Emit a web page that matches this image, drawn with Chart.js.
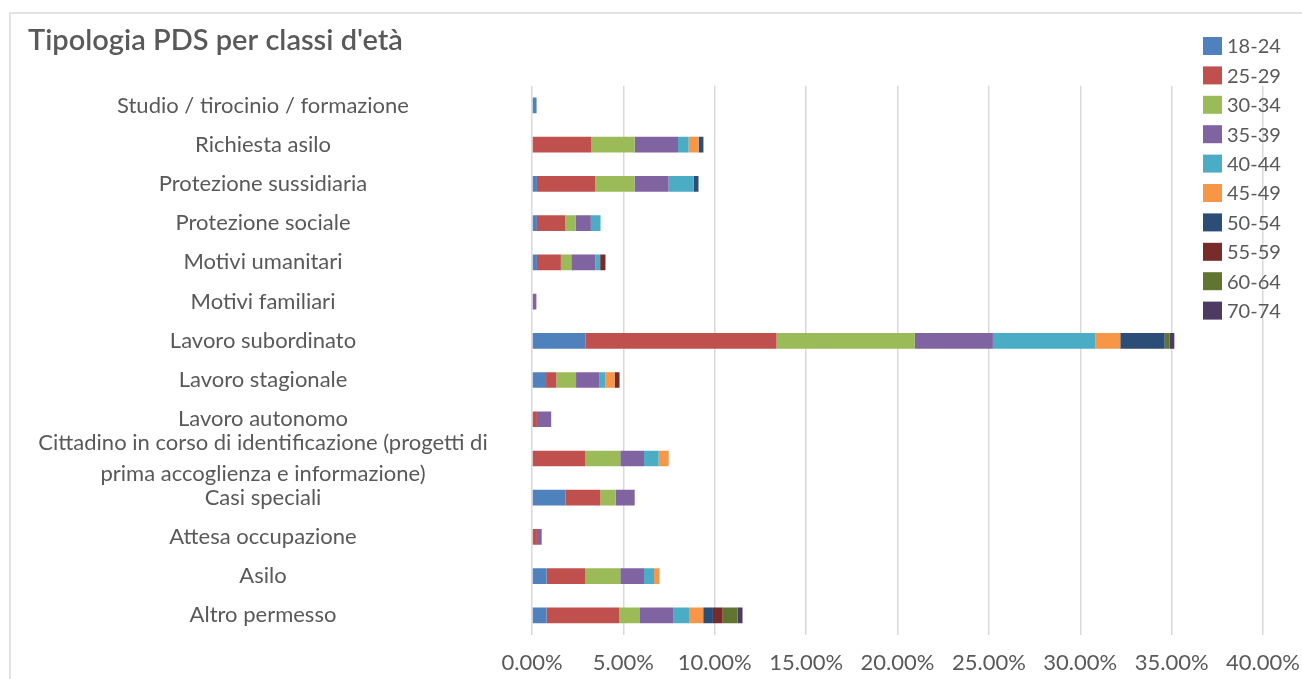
<!DOCTYPE html>
<html>
<head>
<meta charset="utf-8">
<script src="https://cdn.jsdelivr.net/npm/chart.js@4/dist/chart.umd.min.js"></script>
<style>
  html, body { margin: 0; padding: 0; background: #fff; }
  body { width: 1302px; height: 679px; position: relative; overflow: hidden; }
  #frame { position: absolute; left: 9px; top: 12px; width: 1400px; height: 800px;
           border-left: 2px solid #e3e3e3; border-top: 2px solid #e3e3e3; }
  #wrap { position: absolute; left: 0; top: 0; width: 1302px; height: 679px; }
</style>
</head>
<body>
<div id="frame"></div>
<div id="wrap"><canvas id="chart" width="1302" height="679"></canvas></div>
<script>
// Permit types (top to bottom)
const categories = [
  'Studio / tirocinio / formazione',
  'Richiesta asilo',
  'Protezione sussidiaria',
  'Protezione sociale',
  'Motivi umanitari',
  'Motivi familiari',
  'Lavoro subordinato',
  'Lavoro stagionale',
  'Lavoro autonomo',
  ['Cittadino in corso di identificazione (progetti di', 'prima accoglienza e informazione)'],
  'Casi speciali',
  'Attesa occupazione',
  'Asilo',
  'Altro permesso'
];

// Age groups
const ageGroups = ['18-24', '25-29', '30-34', '35-39', '40-44', '45-49', '50-54', '55-59', '60-64', '70-74'];

// Share of permits (%) per age group, one value per permit type
const age18_24 = [0.25, 0, 0.27, 0.27, 0.27, 0, 2.94, 0.77, 0, 0, 1.84, 0, 0.80, 0.80];
const age25_29 = [0, 3.23, 3.19, 1.55, 1.31, 0, 10.44, 0.56, 0.27, 2.90, 1.90, 0.27, 2.10, 3.98];
const age30_34 = [0, 2.39, 2.15, 0.58, 0.57, 0, 7.57, 1.08, 0, 1.93, 0.84, 0, 1.93, 1.13];
const age35_39 = [0, 2.37, 1.86, 0.82, 1.31, 0.24, 4.27, 1.29, 0.78, 1.30, 1.04, 0.26, 1.30, 1.84];
const age40_44 = [0, 0.58, 1.37, 0.53, 0.27, 0, 5.60, 0.31, 0, 0.80, 0, 0, 0.55, 0.84];
const age45_49 = [0, 0.55, 0, 0, 0, 0, 1.37, 0.51, 0, 0.55, 0, 0, 0.29, 0.78];
const age50_54 = [0, 0.26, 0.27, 0, 0, 0, 2.43, 0, 0, 0, 0, 0, 0, 0.53];
const age55_59 = [0, 0, 0, 0, 0.29, 0, 0, 0.27, 0, 0, 0, 0, 0, 0.53];
const age60_64 = [0, 0, 0, 0, 0, 0, 0.26, 0, 0, 0, 0, 0, 0, 0.82];
const age70_74 = [0, 0, 0, 0, 0, 0, 0.27, 0, 0, 0, 0, 0, 0, 0.27];

// Axis ticks
const xTicks = [0, 5, 10, 15, 20, 25, 30, 35, 40];

const seriesValues = [age18_24, age25_29, age30_34, age35_39, age40_44, age45_49, age50_54, age55_59, age60_64, age70_74];
const seriesColors = ['#4F81BD', '#C0504D', '#9BBB59', '#8064A2', '#4BACC6', '#F79646', '#2C4D75', '#772C2A', '#5F7530', '#4D3B62'];

const TEXT = '#595959';
const FONT = 'Lato, "Open Sans", sans-serif';
const LABEL_SIZE = 22;
const LEGEND_SIZE = 20;
const LEFT_PAD = 28;
const PLOT_LEFT = 532;
const LABEL_CENTER = 263;
const X_AXIS_HEIGHT = 44;

// widest category line, used to centre the labels in their column
const mctx = document.createElement('canvas').getContext('2d');
mctx.font = LABEL_SIZE + 'px ' + FONT;
let widest = 0;
categories.forEach(c => [].concat(c).forEach(l => { widest = Math.max(widest, mctx.measureText(l).width); }));
const labelPadding = PLOT_LEFT - LABEL_CENTER - widest / 2;

// Legend drawn over the plot on the right
const overlayLegend = {
  id: 'overlayLegend',
  afterDraw(chart) {
    const ctx = chart.ctx;
    ctx.save();
    ctx.font = LEGEND_SIZE + 'px ' + FONT;
    ctx.textBaseline = 'middle';
    ctx.textAlign = 'left';
    chart.data.datasets.forEach((ds, i) => {
      const cy = 46 + i * 29.4;
      ctx.fillStyle = ds.backgroundColor;
      ctx.fillRect(1203, cy - 9, 19, 18);
      ctx.fillStyle = TEXT;
      ctx.fillText(ds.label, 1227, cy + 1);
    });
    ctx.restore();
  }
};

new Chart(document.getElementById('chart'), {
  type: 'bar',
  data: {
    labels: categories,
    datasets: ageGroups.map((g, i) => ({
      label: g,
      data: seriesValues[i],
      backgroundColor: seriesColors[i],
      borderWidth: 0,
      barPercentage: 0.4,
      categoryPercentage: 1
    }))
  },
  options: {
    indexAxis: 'y',
    responsive: false,
    animation: false,
    layout: { padding: { left: LEFT_PAD, right: 39, top: 0, bottom: 0 } },
    plugins: {
      legend: { display: false },
      tooltip: { enabled: false },
      title: {
        display: true,
        text: "Tipologia PDS per classi d'età",
        align: 'start',
        color: TEXT,
        font: { family: FONT, size: 29, weight: '600' },
        padding: { top: 23, bottom: 28 }
      }
    },
    scales: {
      x: {
        stacked: true,
        min: 0,
        max: 40,
        afterBuildTicks: s => { s.ticks = xTicks.map(v => ({ value: v })); },
        afterFit: s => { s.paddingLeft = 0; s.paddingRight = 0; s.height = X_AXIS_HEIGHT; },
        grid: { color: '#d9d9d9', lineWidth: 1.5, drawTicks: false },
        border: { display: false },
        ticks: {
          color: TEXT,
          padding: 15,
          font: { family: FONT, size: LABEL_SIZE },
          callback: v => v.toFixed(2) + '%'
        }
      },
      y: {
        stacked: true,
        grid: { display: false, drawTicks: false },
        border: { display: false },
        afterFit: s => { s.width = PLOT_LEFT - LEFT_PAD; s.paddingTop = 0; s.paddingBottom = 0; },
        ticks: {
          color: TEXT,
          crossAlign: 'center',
          padding: labelPadding,
          autoSkip: false,
          font: { family: FONT, size: LABEL_SIZE, lineHeight: 1.4 }
        }
      }
    }
  },
  plugins: [overlayLegend]
});
</script>
</body>
</html>
